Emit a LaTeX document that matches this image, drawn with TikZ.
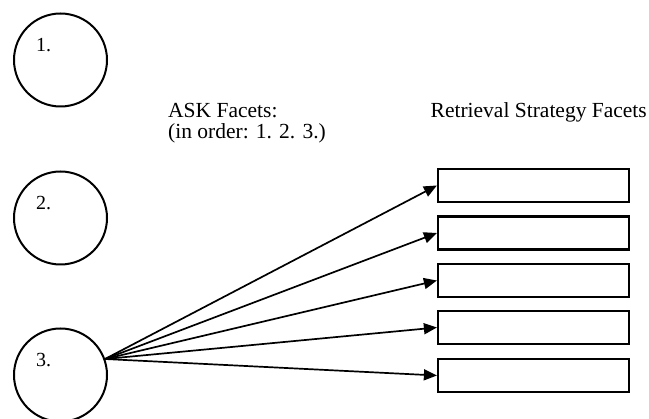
\documentclass[tikz,border=0pt]{standalone}
\usepackage{fontspec}
\setmainfont{Liberation Serif}
\usetikzlibrary{arrows.meta}
\begin{document}
\begin{tikzpicture}[x=1pt,y=-1pt,
  facet/.style={circle,draw,line width=2pt,minimum size=93pt,inner sep=0pt},
  facetnum/.style={anchor=base west,inner sep=0pt,font=\fontsize{20}{20}\selectfont},
  slot/.style={draw,line width=2.2pt,minimum width=191pt,minimum height=33pt,inner sep=0pt},
  heading/.style={inner sep=0pt,font=\fontsize{21.5}{21}\selectfont},
  link/.style={line width=1.7pt,-{Triangle[length=13pt,width=11pt]}}]
\useasboundingbox (0,0) rectangle (649,419);
% ASK facets
\node[facet] (c1) at (60.5,60) {};
\node[facet] (c2) at (60.5,218) {};
\node[facet] (c3) at (60.5,375) {};
\node[facetnum] (n1) at (36,52) {1.};
\node[facetnum] (n2) at (36,210) {2.};
\node[facetnum] (n3) at (36,367) {3.};
% headings
\node[heading,anchor=base west] (askA) at (168,118) {ASK Facets:};
\node[heading,anchor=base west] (askB) at (168,139) {(in order: 1. 2. 3.)};
\node[heading,anchor=base east] (ret) at (647,118) {Retrieval Strategy Facets};
% retrieval strategy slots
\foreach \i/\y in {1/185.5,2/233,3/280.5,4/327.5,5/375.5}
  \node[slot] (r\i) at (533.5,\y) {};
% links from facet 3
\coordinate (src) at (105,359);
\foreach \i in {1,...,5}
  \draw[link] (src) -- (r\i.west);
\end{tikzpicture}
\end{document}
